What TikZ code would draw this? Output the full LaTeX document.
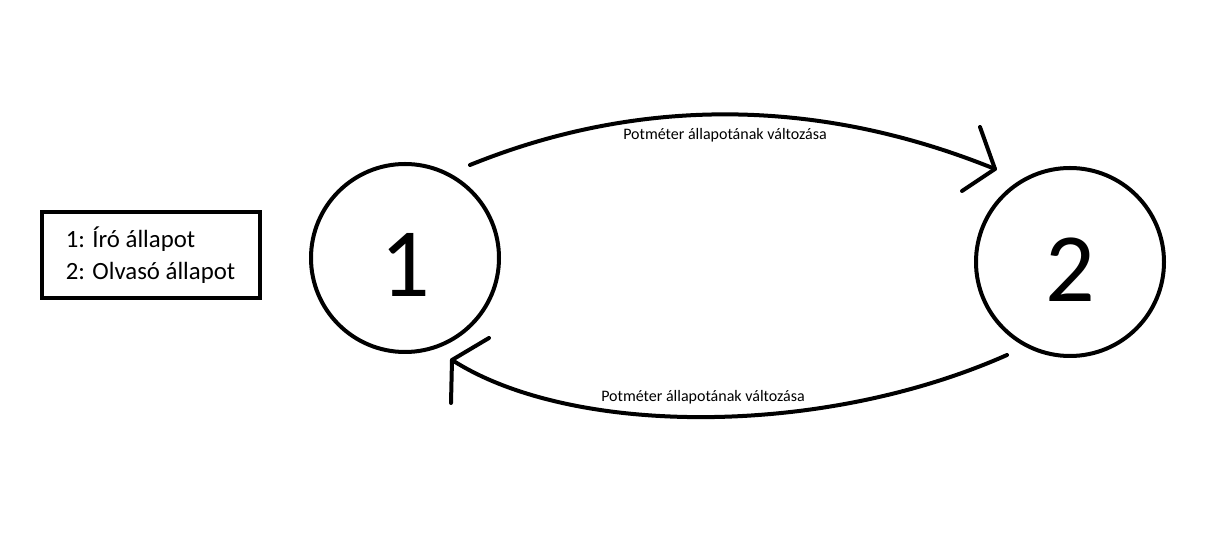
\documentclass[tikz,border=0pt]{standalone}
\usepackage{fontspec}
\setmainfont{Carlito}
\usetikzlibrary{positioning}

\begin{document}
\begin{tikzpicture}[x=0.5pt, y=-0.5pt]
	\tikzstyle{allapot} = [circle, draw, line width=2pt, minimum size=94pt, inner sep=0pt, font=\fontsize{49}{49}\selectfont]
	\tikzstyle{nyil} = [line width=2pt, line cap=round, line join=round]
	\tikzstyle{felirat} = [inner sep=0pt, font=\fontsize{8}{10}\selectfont]

	\useasboundingbox (0,0) rectangle (1206,560);

	\node [allapot] (egy) at (405,258) {\raisebox{-3.7pt}[\height][0pt]{1}};
	\node [allapot] (ketto) at (1070,262) {\raisebox{-3.7pt}[\height][0pt]{2}};

	\node [draw, line width=2pt, minimum width=109pt, minimum height=43pt, align=left, font=\fontsize{12.4}{16}\selectfont] (jelmagyarazat) at (150.5,255.5) {1: Író állapot\\2: Olvasó állapot};

	% also iro -> olvaso
	\coordinate (fentkezd) at (470,165);
	\coordinate (fentvege) at (995,169);
	\draw [nyil] (fentkezd) .. controls (650,92) and (830,102) .. (fentvege);
	\draw [nyil] (980,127) -- (fentvege) -- (962,191);
	\node [felirat] (fentfelirat) at (725,135) {Potméter állapotának változása};

	% olvaso -> iro
	\coordinate (lentkezd) at (1007,355);
	\coordinate (lentvege) at (452,360);
	\draw [nyil] (lentkezd) .. controls (820,438) and (570,436) .. (lentvege);
	\draw [nyil] (489,338) -- (lentvege) -- (451,403);
	\node [felirat] (lentfelirat) at (703,397) {Potméter állapotának változása};
\end{tikzpicture}
\end{document}
